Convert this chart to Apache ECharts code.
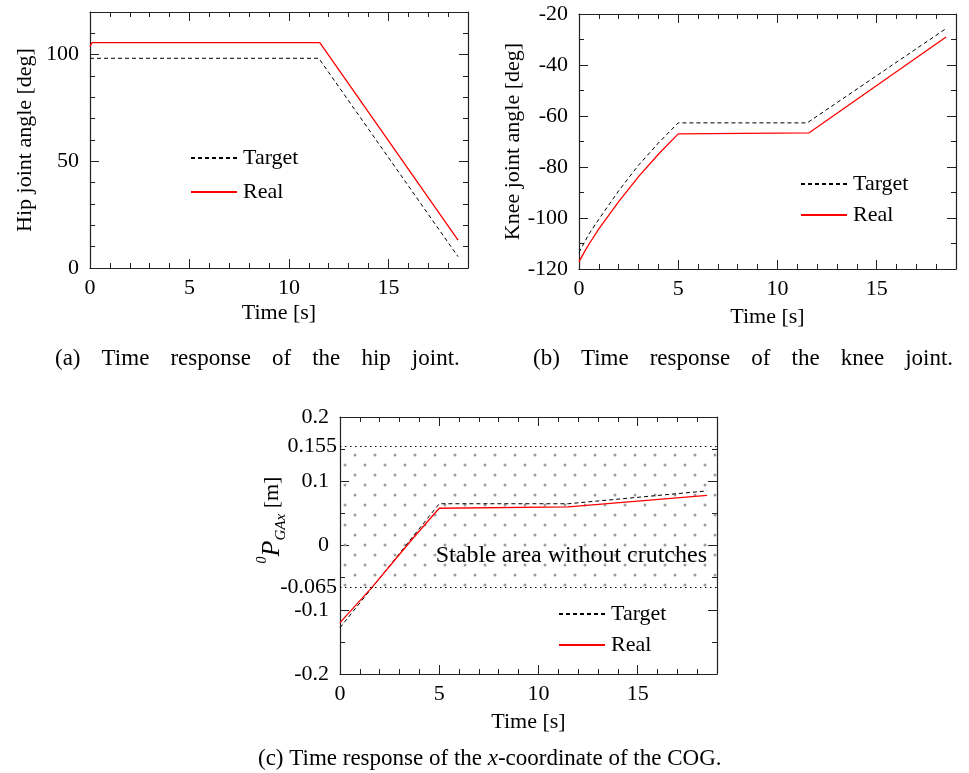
<!DOCTYPE html>
<html>
<head>
<meta charset="utf-8">
<script src="https://cdn.jsdelivr.net/npm/echarts@6/dist/echarts.min.js"></script>
<style>
html,body{margin:0;padding:0;background:#fff;}
#main{width:969px;height:773px;}
</style>
</head>
<body>
<div id="main"></div>
<script>
// (a) hip joint
var hipTargetT = [0, 11.5, 18.5];
var hipTarget = [98.3, 98.3, 5.3];
var hipRealT = [0, 0.1, 11.55, 18.5];
var hipReal = [103.8, 105.6, 105.6, 13.1];

// (b) knee joint
var kneeTargetT = [0, 0.5, 1, 2, 3, 4, 5, 11.5, 18.5];
var kneeTarget = [-113.5, -106.3, -100.5, -89.3, -79.3, -70.6, -62.7, -62.7, -25.7];
var kneeRealT = [0, 0.25, 0.5, 1, 2, 3, 4, 5, 11.6, 18.5];
var kneeReal = [-117.2, -113.6, -110.3, -104.3, -93.6, -83.8, -75.0, -67.0, -66.6, -29.0];

// (c) x-coordinate of the COG
var cogTargetT = [0, 5, 11.5, 18.5];
var cogTarget = [-0.128, 0.065, 0.065, 0.085];
var cogRealT = [0, 1.6, 3.7, 5, 11.5, 18.5];
var cogReal = [-0.12, -0.0655, 0.012, 0.058, 0.060, 0.078];

var stableTop = 0.155, stableBottom = -0.065;
var stableText = 'Stable area without crutches';
var legendNames = ['Target', 'Real'];

var SP = ' \u2002\u2006'; // justified word gap like in the paper
var captionA = ['(a)', 'Time', 'response', 'of', 'the', 'hip', 'joint.'].join(SP);
var captionB = ['(b)', 'Time', 'response', 'of', 'the', 'knee', 'joint.'].join(SP);
var captionC = '(c) Time response of the {i|x}-coordinate of the COG.';

var FONT = 'Liberation Serif';
var INK = '#222';

function zip(t, v){
  return t.map(function(x, i){ return [x, v[i]]; });
}

// four sided box with inward ticks: main + major overlay on each side
function makeAxes(dim, grid, min, max, minorIv, majorIv, labelStep, name, nameGap){
  var sides = dim === 'x' ? ['bottom', 'top'] : ['left', 'right'];
  var out = [];
  sides.forEach(function(p, k){
    out.push({
      type: 'value', gridIndex: grid, position: p, min: min, max: max, interval: minorIv,
      splitLine: {show: false},
      axisLine: {show: true, onZero: false, lineStyle: {color: INK, width: 1.2}},
      axisTick: {show: true, inside: true, length: 5, lineStyle: {color: INK, width: 1}},
      axisLabel: k === 0 ? {
        show: true, color: '#000', fontFamily: FONT, fontSize: 22, margin: dim === 'x' ? 9 : 11,
        formatter: function(v){
          var r = v / labelStep;
          return Math.abs(r - Math.round(r)) < 1e-6 ? String(+v.toFixed(3)) : '';
        }
      } : {show: false},
      name: k === 0 ? name : '',
      nameLocation: 'middle',
      nameGap: nameGap,
      nameTextStyle: {color: '#000', fontFamily: FONT, fontSize: 22}
    });
    out.push({
      type: 'value', gridIndex: grid, position: p, min: min, max: max, interval: majorIv,
      splitLine: {show: false},
      axisLine: {show: false, onZero: false},
      axisTick: {show: true, inside: true, length: 9, lineStyle: {color: INK, width: 1}},
      axisLabel: {show: false}
    });
  });
  return out;
}

var dotCanvas = document.createElement('canvas');
dotCanvas.width = 20; dotCanvas.height = 20;
(function(){
  var c = dotCanvas.getContext('2d');
  c.fillStyle = '#9c9c9c';
  [[5, 5], [15, 15]].forEach(function(p){
    c.beginPath(); c.arc(p[0], p[1], 1.5, 0, Math.PI * 2); c.fill();
  });
})();

var targetStyle = {color: '#000', width: 1, type: [4, 3]};
var realStyle = {color: '#ff0000', width: 1.3};

function lineSeries(name, grid, data, style, extra){
  var s = {
    type: 'line', name: name, xAxisIndex: grid * 4, yAxisIndex: grid * 4,
    data: data, symbol: 'none', lineStyle: style, itemStyle: {color: style.color},
    animation: false, silent: true
  };
  return Object.assign(s, extra || {});
}

function legendAt(left, top, gap){
  return {
    left: left, top: top, orient: 'vertical', padding: 0, itemGap: gap,
    itemWidth: 46, itemHeight: 14, selectedMode: false, data: legendNames,
    itemStyle: {opacity: 0},
    textStyle: {color: '#000', fontFamily: FONT, fontSize: 22, lineHeight: 22, padding: [0, 0, 0, 1]}
  };
}

var chart = echarts.init(document.getElementById('main'), null, {renderer: 'canvas'});

var option = {
  backgroundColor: '#fff',
  animation: false,
  textStyle: {fontFamily: FONT},
  grid: [
    {left: 90, top: 12, width: 378, height: 256},
    {left: 579, top: 14, width: 377, height: 255},
    {left: 340, top: 417, width: 377, height: 257}
  ],
  xAxis: [].concat(
    makeAxes('x', 0, 0, 19, 1, 5, 5, 'Time [s]', 34),
    makeAxes('x', 1, 0, 19, 1, 5, 5, 'Time [s]', 37),
    makeAxes('x', 2, 0, 19, 1, 5, 5, 'Time [s]', 37)
  ),
  yAxis: [].concat(
    makeAxes('y', 0, 0, 120, 10, 50, 50, 'Hip joint angle [deg]', 54),
    makeAxes('y', 1, -120, -20, 10, 20, 20, 'Knee joint angle [deg]', 53),
    makeAxes('y', 2, -0.2, 0.2, 0.05, 0.1, 0.1, '', 0)
  ),
  legend: [legendAt(190, 147, 12), legendAt(800, 173, 9), legendAt(558, 603, 9)],
  series: [
    lineSeries('Target', 0, zip(hipTargetT, hipTarget), targetStyle),
    lineSeries('Real', 0, zip(hipRealT, hipReal), realStyle),
    lineSeries('Target', 1, zip(kneeTargetT, kneeTarget), targetStyle),
    lineSeries('Real', 1, zip(kneeRealT, kneeReal), realStyle),
    lineSeries('Target', 2, zip(cogTargetT, cogTarget), targetStyle, {
      markArea: {
        silent: true,
        itemStyle: {color: {image: dotCanvas, repeat: 'repeat'}},
        label: {
          show: true, position: 'insideBottomRight', distance: 10, offset: [0, -10],
          color: '#000', fontFamily: FONT, fontSize: 24, formatter: stableText
        },
        data: [[{yAxis: stableTop}, {yAxis: stableBottom}]]
      },
      markLine: {
        silent: true, symbol: ['none', 'none'], precision: 3,
        lineStyle: {color: '#000', width: 1, type: [1.5, 3.5]},
        label: {
          position: 'start', distance: 3, color: '#000', fontFamily: FONT, fontSize: 22,
          formatter: function(p){ return String(+(+p.value).toFixed(3)); }
        },
        data: [{yAxis: stableTop}, {yAxis: stableBottom}]
      }
    }),
    lineSeries('Real', 2, zip(cogRealT, cogReal), realStyle)
  ],
  graphic: [
    {type: 'text', x: 55, y: 359, style: {text: captionA, fontFamily: FONT, fontSize: 23, fill: '#000', textAlign: 'left', textVerticalAlign: 'middle'}},
    {type: 'text', x: 533, y: 359, style: {text: captionB, fontFamily: FONT, fontSize: 23, fill: '#000', textAlign: 'left', textVerticalAlign: 'middle'}},
    {type: 'text', x: 258, y: 759, style: {
      text: captionC, fontFamily: FONT, fontSize: 23, fill: '#000', textAlign: 'left', textVerticalAlign: 'middle',
      rich: {i: {fontFamily: FONT, fontSize: 23, fontStyle: 'italic', fill: '#000'}}
    }},
    {type: 'text', x: 272, y: 520, rotation: Math.PI / 2, style: {
      text: '{sup|0}{p|P}{sub|GAx} [m]', fontFamily: FONT, fontSize: 22, fill: '#000',
      textAlign: 'center', textVerticalAlign: 'middle',
      rich: {
        sup: {fontFamily: FONT, fontSize: 14, fontStyle: 'italic', verticalAlign: 'top', lineHeight: 34},
        p: {fontFamily: FONT, fontSize: 26, fontStyle: 'italic', lineHeight: 34},
        sub: {fontFamily: FONT, fontSize: 15, fontStyle: 'italic', verticalAlign: 'bottom', lineHeight: 34}
      }
    }}
  ]
};

chart.setOption(option);
</script>
</body>
</html>
